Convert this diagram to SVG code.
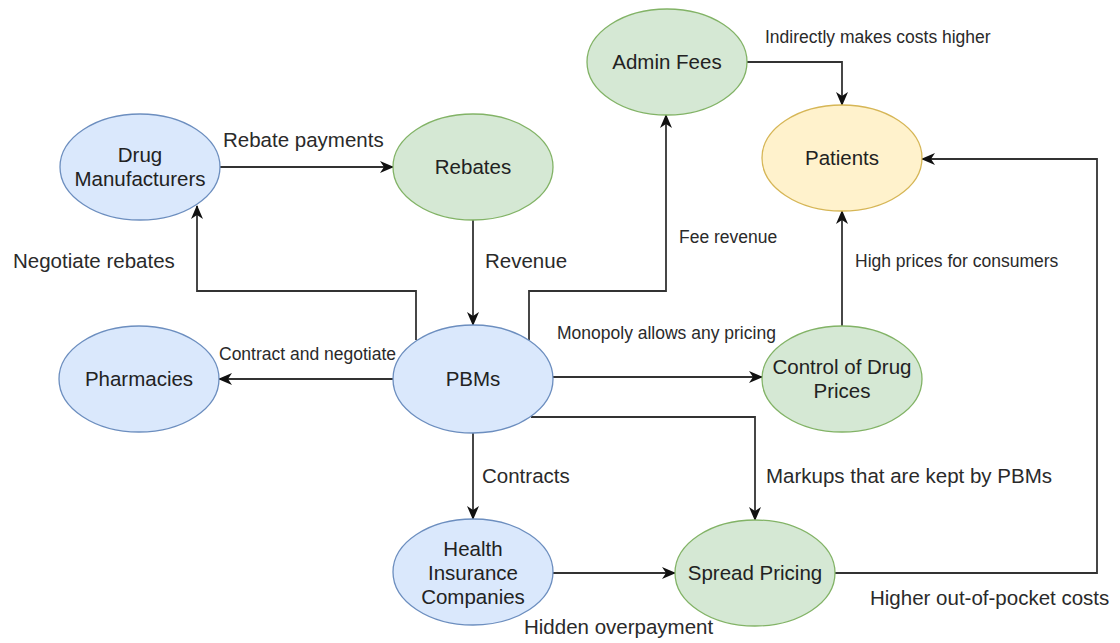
<svg xmlns="http://www.w3.org/2000/svg" width="1120" height="643" viewBox="0 0 1120 643">
<defs>
<style>
.blue{fill:#dae8fc;stroke:#6c8ebf;stroke-width:1.3}
.green{fill:#d5e8d4;stroke:#82b366;stroke-width:1.3}
.yellow{fill:#fff2cc;stroke:#d6b656;stroke-width:1.3}
.nt{font-family:"Liberation Sans",Arial,sans-serif;font-size:20.5px;fill:#222;text-anchor:middle}
.lb{font-family:"Liberation Sans",Arial,sans-serif;font-size:20.5px;fill:#2a2a2a}
.sm{font-family:"Liberation Sans",Arial,sans-serif;font-size:17.5px;fill:#2a2a2a}
.edge{fill:none;stroke:#333;stroke-width:1.8;marker-end:url(#arr)}
</style>
<marker id="arr" markerUnits="userSpaceOnUse" markerWidth="14" markerHeight="12" viewBox="0 0 14 12" refX="13" refY="6" orient="auto">
<path d="M0,0 L14,6 L0,12 L4,6 z" fill="#111"/>
</marker>
</defs>
<rect width="1120" height="643" fill="#ffffff"/>

<g id="connectors">
<path class="edge" d="M220,167 L393,167"/>
<path class="edge" d="M473,220 L473,325"/>
<path class="edge" d="M416,340 L416,291 L197,291 L197,206"/>
<path class="edge" d="M529,340 L529,291 L666,291 L666,115"/>
<path class="edge" d="M747,62 L842,62 L842,105"/>
<path class="edge" d="M393,379 L219,379"/>
<path class="edge" d="M553,377 L762,377"/>
<path class="edge" d="M531,417 L755,417 L755,520"/>
<path class="edge" d="M473,433 L473,519"/>
<path class="edge" d="M553,573 L675,573"/>
<path class="edge" d="M835,573 L1097,573 L1097,159 L922,159"/>
<path class="edge" d="M842,326 L842,211"/>
<text class="lb" x="223" y="147">Rebate payments</text>
<text class="lb" x="13" y="268">Negotiate rebates</text>
<text class="lb" x="485" y="268">Revenue</text>
<text class="sm" x="679" y="243">Fee revenue</text>
<text class="sm" x="765" y="43">Indirectly makes costs higher</text>
<text class="sm" x="855" y="267">High prices for consumers</text>
<text class="sm" x="219" y="360">Contract and negotiate</text>
<text class="sm" x="557" y="339">Monopoly allows any pricing</text>
<text class="lb" x="482" y="483">Contracts</text>
<text class="lb" x="766" y="483">Markups that are kept by PBMs</text>
<text class="lb" x="524" y="634">Hidden overpayment</text>
<text class="lb" x="870" y="605">Higher out-of-pocket costs</text>
</g>

<g id="drug-manufacturers">
<ellipse class="blue" cx="140" cy="167" rx="80" ry="53"/>
<text class="nt" x="140" y="162">Drug</text>
<text class="nt" x="140" y="186">Manufacturers</text>
</g>
<g id="rebates">
<ellipse class="green" cx="473" cy="167" rx="80" ry="53"/>
<text class="nt" x="473" y="174">Rebates</text>
</g>
<g id="admin-fees">
<ellipse class="green" cx="667" cy="62" rx="80" ry="53"/>
<text class="nt" x="667" y="69">Admin Fees</text>
</g>
<g id="patients">
<ellipse class="yellow" cx="842" cy="158" rx="80" ry="53"/>
<text class="nt" x="842" y="165">Patients</text>
</g>
<g id="pharmacies">
<ellipse class="blue" cx="139" cy="379" rx="80" ry="53"/>
<text class="nt" x="139" y="386">Pharmacies</text>
</g>
<g id="pbms">
<ellipse class="blue" cx="473" cy="379" rx="80" ry="54"/>
<text class="nt" x="473" y="386">PBMs</text>
</g>
<g id="control-of-drug-prices">
<ellipse class="green" cx="842" cy="379" rx="80" ry="53"/>
<text class="nt" x="842" y="374">Control of Drug</text>
<text class="nt" x="842" y="398">Prices</text>
</g>
<g id="health-insurance-companies">
<ellipse class="blue" cx="473" cy="572" rx="80" ry="53"/>
<text class="nt" x="473" y="556">Health</text>
<text class="nt" x="473" y="580">Insurance</text>
<text class="nt" x="473" y="604">Companies</text>
</g>
<g id="spread-pricing">
<ellipse class="green" cx="755" cy="573" rx="80" ry="53"/>
<text class="nt" x="755" y="580">Spread Pricing</text>
</g>
</svg>
